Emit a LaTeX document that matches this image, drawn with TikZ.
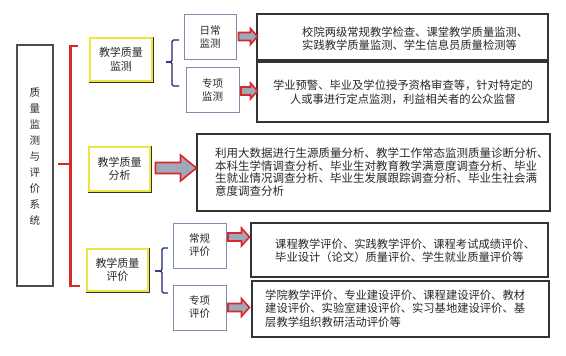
\documentclass[tikz,border=0pt]{standalone}
\usepackage{fontspec}
\newfontfamily\cjk{Noto Sans CJK SC}
\usetikzlibrary{calc}
\definecolor{redc}{RGB}{214,42,42}
\definecolor{arrfill}{RGB}{160,168,186}
\definecolor{navyc}{RGB}{32,36,112}
\definecolor{sgrey}{RGB}{128,140,172}
\definecolor{yel}{RGB}{238,228,60}
\definecolor{txtc}{RGB}{40,40,40}
\begin{document}
\begin{tikzpicture}[x=1pt,y=-1pt,
  bigbox/.style={draw=black!80, line width=1.1pt, fill=white, inner sep=0pt},
  ybox/.style={draw=black!80, line width=1pt, fill=white, inner sep=0pt, align=center,
    text=txtc, font=\cjk\fontsize{11}{13.5}\selectfont},
  sbox/.style={draw=sgrey, line width=0.9pt, fill=white, inner sep=0pt, align=center,
    text=txtc, font=\cjk\fontsize{10.5}{13}\selectfont},
  body/.style={inner sep=0pt, text=txtc, font=\cjk\fontsize{11.3}{13}\selectfont},
  redbr/.style={draw=redc, line width=2.8pt},
  bluebr/.style={draw=navyc, line width=1.3pt, rounded corners=1.5pt},
  blockarrow/.style n args={3}{draw=redc, line width=1.6pt, fill=arrfill, line join=miter,
    to path={let \p1=(\tikztostart), \p2=(\tikztotarget) in
      (\x1,\y1+#1) -- (\x2-#3,\y1+#1) -- (\x2-#3,\y1+#2) -- (\x2,\y1) --
      (\x2-#3,\y1-#2) -- (\x2-#3,\y1-#1) -- (\x1,\y1-#1) -- cycle}}
]
\useasboundingbox (0,0) rectangle (566,356);

% left main box
\node[bigbox, draw=black!70, minimum width=36pt, minimum height=241pt] (main) at (35,165.5) {};
\node[inner sep=0pt, align=center, text=txtc, font=\cjk\fontsize{10.5}{16}\selectfont]
  (maintxt) at (35,157) {质\\量\\监\\测\\与\\评\\价\\系\\统};

% red bracket
\coordinate (rtop) at (78,46);
\coordinate (rbot) at (80,286);
\coordinate (rmid) at (70.5,164);
\coordinate (rstub) at (58,164);
\draw[redbr] (rtop) -- (70.5,46) -- (70.5,286) -- (rbot);
\draw[redbr] (rmid) -- (rstub);

% yellow boxes
\node[ybox, minimum width=64pt, minimum height=45pt] (y1) at (121,59.5) {教学质量\\监测};
\node[ybox, minimum width=63pt, minimum height=46pt] (y2) at (119.5,169) {教学质量\\分析};
\node[ybox, minimum width=63pt, minimum height=44pt] (y3) at (117.5,270) {教学质量\\评价};
\foreach \n in {y1,y2,y3}{
  \draw[yel, line width=1.4pt] ([shift={(1.6pt,1.6pt)}]\n.south west) rectangle ([shift={(-1.6pt,-1.6pt)}]\n.north east);
}

% small boxes
\node[sbox, minimum width=52pt, minimum height=45pt] (s1) at (210,36.5) {日常\\监测};
\node[sbox, minimum width=53pt, minimum height=45pt] (s2) at (212.5,89.5) {专项\\监测};
\node[sbox, minimum width=53pt, minimum height=45pt] (s3) at (199.5,245.5) {常规\\评价};
\node[sbox, minimum width=53pt, minimum height=45pt] (s4) at (199.5,307.5) {专项\\评价};

% blue brackets
\coordinate (b1tip) at (166,62);
\draw[bluebr] (179,40) -- (172,40) -- (172,62) -- (b1tip);
\draw[bluebr] (b1tip) -- (172,62) -- (172,86) -- (179,86);
\coordinate (b2tip) at (155,271);
\draw[bluebr] (168,248) -- (162,248) -- (162,271) -- (b2tip);
\draw[bluebr] (b2tip) -- (162,271) -- (162,293) -- (168,293);

% right boxes
\node[bigbox, minimum width=291pt, minimum height=46pt] (r1) at (402.5,37) {};
\node[bigbox, minimum width=291pt, minimum height=60pt] (r2) at (402.5,92) {};
\node[bigbox, minimum width=353pt, minimum height=77pt] (r3) at (373.5,172.5) {};
\node[bigbox, minimum width=297pt, minimum height=54pt] (r4) at (399.5,250) {};
\node[bigbox, minimum width=297pt, minimum height=56pt] (r5) at (400.5,309) {};

\node[body, anchor=west, align=left] (t1) at (302,38.5)
  {校院两级常规教学检查、课堂教学质量监测、\\实践教学质量监测、学生信息员质量检测等};
\node[body, align=center, font=\cjk\fontsize{11.3}{14}\selectfont] (t2) at (403,92)
  {学业预警、毕业及学位授予资格审查等，针对特定的\\人或事进行定点监测，利益相关者的公众监督};
\node[body, anchor=west, align=left, font=\cjk\fontsize{11.5}{12.4}\selectfont] (t3) at (215,172)
  {利用大数据进行生源质量分析、教学工作常态监测质量诊断分析、\\本科生学情调查分析、毕业生对教育教学满意度调查分析、毕业\\生就业情况调查分析、毕业生发展跟踪调查分析、毕业生社会满\\意度调查分析};
\node[body, anchor=west, align=left] (t4) at (275,250.5)
  {课程教学评价、实践教学评价、课程考试成绩评价、\\毕业设计（论文）质量评价、学生就业质量评价等};
\node[body, anchor=west, align=left, font=\cjk\fontsize{11.3}{13.5}\selectfont] (t5) at (265,308.5)
  {学院教学评价、专业建设评价、课程建设评价、教材\\建设评价、实验室建设评价、实习基地建设评价、基\\层教学组织教研活动评价等};

% block arrows
\draw[blockarrow={4pt}{8pt}{7pt}] ([xshift=2pt]s1.east) to ([xshift=1pt]r1.west);
\draw[blockarrow={4pt}{8pt}{7pt}] ([xshift=1.5pt,yshift=-1.5pt]s2.east) to ([xshift=1pt]r2.west);
\draw[blockarrow={5.5pt}{13pt}{16pt}] ([xshift=4pt,yshift=1pt]y2.east) to (r3.west);
\draw[blockarrow={4pt}{9pt}{8pt}] ([xshift=1.5pt,yshift=8.5pt]s3.east) to ([xshift=-1pt]r4.west);
\draw[blockarrow={4pt}{9pt}{8pt}] ([xshift=1.5pt]s4.east) to ([xshift=-2pt]r5.west);
\end{tikzpicture}
\end{document}
